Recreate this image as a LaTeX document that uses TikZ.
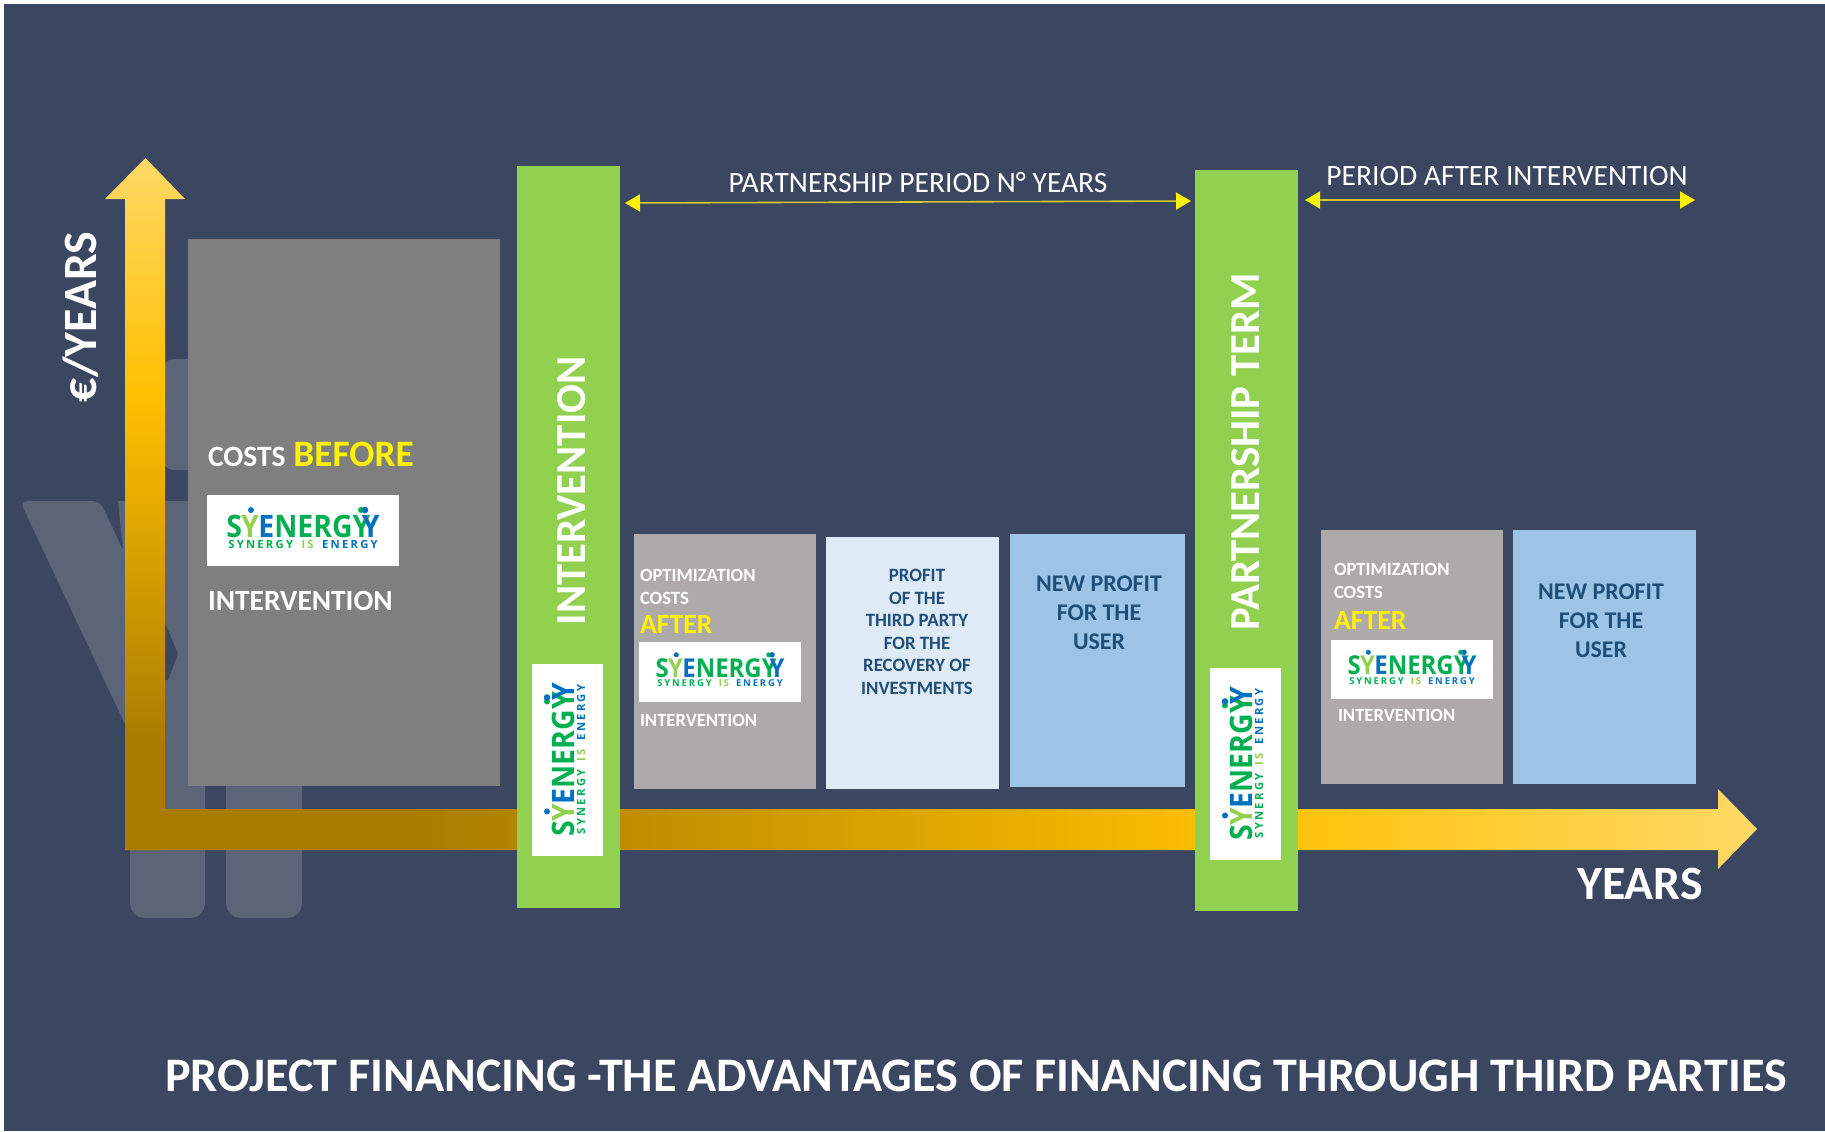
\documentclass[tikz,border=0pt]{standalone}
\usepackage{fontspec}
\setmainfont{Carlito}
\newfontfamily\logofont{Open Sans}
\newfontfamily\logotag[LetterSpace=20]{Open Sans}
\usetikzlibrary{arrows.meta,positioning}

\definecolor{bgblue}{HTML}{3B4660}
\definecolor{markgrey}{HTML}{5C6478}
\definecolor{darkgold}{HTML}{A97C00}
\definecolor{midgold}{HTML}{FFC000}
\definecolor{lightgold}{HTML}{FFD966}
\definecolor{barline}{HTML}{92D050}
\definecolor{costgrey}{HTML}{7F7F7F}
\definecolor{optgrey}{HTML}{AEAAAA}
\definecolor{paleblue}{HTML}{DEEBF7}
\definecolor{userblue}{HTML}{9DC3E6}
\definecolor{navytext}{HTML}{1F4E79}
\definecolor{logogreen}{HTML}{00B050}
\definecolor{logoblue}{HTML}{0070C0}

\pgfdeclareverticalshading{goldup}{100bp}{color(0bp)=(darkgold); color(32.6bp)=(darkgold); color(57.8bp)=(midgold); color(75bp)=(lightgold); color(100bp)=(lightgold)}
\pgfdeclarehorizontalshading{goldright}{100bp}{color(0bp)=(darkgold); color(33.9bp)=(darkgold); color(58.9bp)=(midgold); color(75bp)=(lightgold); color(100bp)=(lightgold)}

\tikzset{
every node/.style={outer sep=0pt},
panel/.style={rectangle,inner sep=0pt,anchor=north west},
greenbar/.style={panel,fill=barline,minimum width=1.03cm},
lbl/.style={inner sep=0pt,anchor=base west,text=white,font=\bfseries\fontsize{5.3}{6}\selectfont},
userlbl/.style={inner sep=0pt,align=center,text=navytext,font=\bfseries\fontsize{6.8}{8.25}\selectfont},
biglbl/.style={inner sep=0pt,text=white,font=\bfseries\fontsize{13.6}{14}\selectfont},
barlbl/.style={biglbl,rotate=90,font=\bfseries\fontsize{12.15}{14}\selectfont},
spanlbl/.style={inner sep=0pt,text=white,font=\fontsize{8.4}{9}\selectfont},
spanarrow/.style={draw=yellow!80!black,line width=0.45pt,{Triangle[length=1.5mm,width=1.7mm,color=yellow,fill=yellow]}-{Triangle[length=1.5mm,width=1.7mm,color=yellow,fill=yellow]}},
synlogo/.pic={
\fill[white] (-0.96,-0.355) rectangle (0.96,0.355);
\node[transform shape,xscale=0.92,inner sep=0pt,anchor=base,font=\logofont\bfseries\fontsize{8.8}{9}\selectfont] (-word) at (0,0.065) {\textcolor{logogreen}{S}\kern-.03em\textcolor{barline}{Y}\kern-.02em\textcolor{logoblue}{E}\textcolor{logogreen}{NERGY}\kern-.3em\textcolor{logoblue}{Y}};
\node[transform shape,inner sep=0pt,anchor=base,font=\logotag\bfseries\fontsize{3.2}{4}\selectfont] (-tag) at (0,0.175) {\textcolor{logogreen}{SYNERGY}\kern.75em\textcolor{barline}{IS}\kern.75em\textcolor{logoblue}{ENERGY}};
\fill[logoblue] (-0.52,-0.205) circle (0.03);
\fill[logogreen] (0.58,-0.205) circle (0.03);
\fill[logoblue] (0.62,-0.205) circle (0.033);
}
}

\begin{document}
\begin{tikzpicture}[y=-1cm]
\useasboundingbox (0,0) rectangle (18.25,11.31);
\fill[white] (0,0) rectangle (18.25,11.31);
\fill[bgblue] (0.04,0.04) rectangle (18.25,11.31);

% faint mark behind everything
\fill[markgrey,rounded corners=0.15cm] (1.30,7.7) rectangle (2.05,9.18);
\fill[markgrey,rounded corners=0.15cm] (2.26,7.7) rectangle (3.02,9.18);
\fill[markgrey,rounded corners=0.12cm] (1.62,3.59) rectangle (2.2,4.70);
\fill[markgrey,rounded corners=0.08cm] (0.20,5.01) -- (1.00,5.01) -- (1.7,6.5) -- (1.7,8.2) -- cycle;
\fill[markgrey] (1.18,5.01) -- (2.0,5.01) -- (2.0,8.09) -- (1.5,8.09) -- cycle;
\fill[bgblue] (1.65,6.23) -- (1.78,6.54) -- (1.68,6.80) -- (1.65,6.80) -- cycle;

% axes
\path[shading=goldup] (1.25,8.50) -- (1.25,1.99) -- (1.05,1.99) -- (1.455,1.58) -- (1.85,1.99) -- (1.65,1.99) -- (1.65,8.50) -- cycle;
\path[shading=goldright] (1.25,8.09) -- (17.18,8.09) -- (17.18,7.89) -- (17.57,8.29) -- (17.18,8.69) -- (17.18,8.50) -- (1.25,8.50) -- cycle;
\node[biglbl,rotate=90] (ylabel) at (0.81,3.17) {€/YEARS};
\node[biglbl] (xlabel) at (16.40,8.84) {YEARS};

% cost before
\node[panel,fill=costgrey,minimum width=3.12cm,minimum height=5.47cm] (costbox) at (1.88,2.39) {};
\node[lbl,font=\bfseries\fontsize{8.4}{9}\selectfont] (costlbl) at (2.08,4.66) {COSTS};
\node[lbl,text=yellow,font=\bfseries\fontsize{10.6}{11}\selectfont,right=0.08cm of costlbl.base east,anchor=base west] (beforelbl) {BEFORE};
\pic (logoa) at (3.03,5.305) {synlogo};
\node[lbl,font=\bfseries\fontsize{8.35}{9}\selectfont] (costint) at (2.08,6.10) {INTERVENTION};

% bars
\node[greenbar,minimum height=7.42cm] (barint) at (5.17,1.66) {};
\node[greenbar,minimum height=7.41cm] (barterm) at (11.95,1.70) {};
\node[barlbl] (intlbl) at (5.72,4.91) {INTERVENTION};
\node[barlbl] (termlbl) at (12.46,4.52) {PARTNERSHIP TERM};
\pic[rotate=90] (logob) at (5.675,7.595) {synlogo};
\pic[rotate=90] (logoc) at (12.455,7.635) {synlogo};

% period arrows
\coordinate (pstart) at (6.25,2.03);
\coordinate (pend) at (11.91,2.01);
\coordinate (qstart) at (13.05,2.00);
\coordinate (qend) at (16.95,2.00);
\draw[spanarrow] (pstart) -- (pend);
\draw[spanarrow] (qstart) -- (qend);
\node[spanlbl] (plbl) at (9.18,1.83) {PARTNERSHIP PERIOD N° YEARS};
\node[spanlbl] (qlbl) at (15.07,1.765) {PERIOD AFTER INTERVENTION};

% partnership period
\node[panel,fill=optgrey,minimum width=1.82cm,minimum height=2.55cm] (optbox) at (6.34,5.34) {};
\node[panel,fill=paleblue,minimum width=1.73cm,minimum height=2.52cm,right=0.10cm of optbox.north east,anchor=north west,yshift=-0.03cm] (thirdbox) {};
\node[panel,fill=userblue,minimum width=1.75cm,minimum height=2.53cm] (userbox) at (10.10,5.34) {};
\node[lbl] (optlbl) at (6.40,5.81) {OPTIMIZATION};
\node[lbl,below=0.23cm of optlbl.base west,anchor=base west] (optcost) {COSTS};
\node[lbl,text=yellow,font=\bfseries\fontsize{7.9}{8}\selectfont] (aftlbl) at (6.40,6.33) {AFTER};
\pic[scale=0.84] (logod) at (7.20,6.72) {synlogo};
\node[lbl] (optint) at (6.40,7.26) {INTERVENTION};
\node[userlbl,font=\bfseries\fontsize{5.35}{6.4}\selectfont] (thirdlbl) at (9.17,6.32) {PROFIT\\OF THE\\THIRD PARTY\\FOR THE\\RECOVERY OF\\INVESTMENTS};
\node[userlbl] (userlbl) at (10.99,6.13) {NEW PROFIT\\FOR THE\\USER};

% after the term
\node[panel,fill=optgrey,minimum width=1.82cm,minimum height=2.54cm] (optboxb) at (13.21,5.30) {};
\node[panel,fill=userblue,minimum width=1.83cm,minimum height=2.54cm,right=0.10cm of optboxb.north east,anchor=north west] (userboxb) {};
\node[lbl] (optlblb) at (13.34,5.755) {OPTIMIZATION};
\node[lbl,below=0.23cm of optlblb.base west,anchor=base west] (optcostb) {COSTS};
\node[lbl,text=yellow,font=\bfseries\fontsize{7.9}{8}\selectfont] (aftlblb) at (13.34,6.29) {AFTER};
\pic[scale=0.84] (logoe) at (14.12,6.695) {synlogo};
\node[lbl] (optintb) at (13.38,7.215) {INTERVENTION};
\node[userlbl] (userlblb) at (16.01,6.21) {NEW PROFIT\\FOR THE\\USER};

% title
\node[biglbl,anchor=base west,font=\bfseries\fontsize{13.7}{14}\selectfont] (title) at (1.65,10.91) {PROJECT FINANCING -THE ADVANTAGES OF FINANCING THROUGH THIRD PARTIES};
\end{tikzpicture}
\end{document}
